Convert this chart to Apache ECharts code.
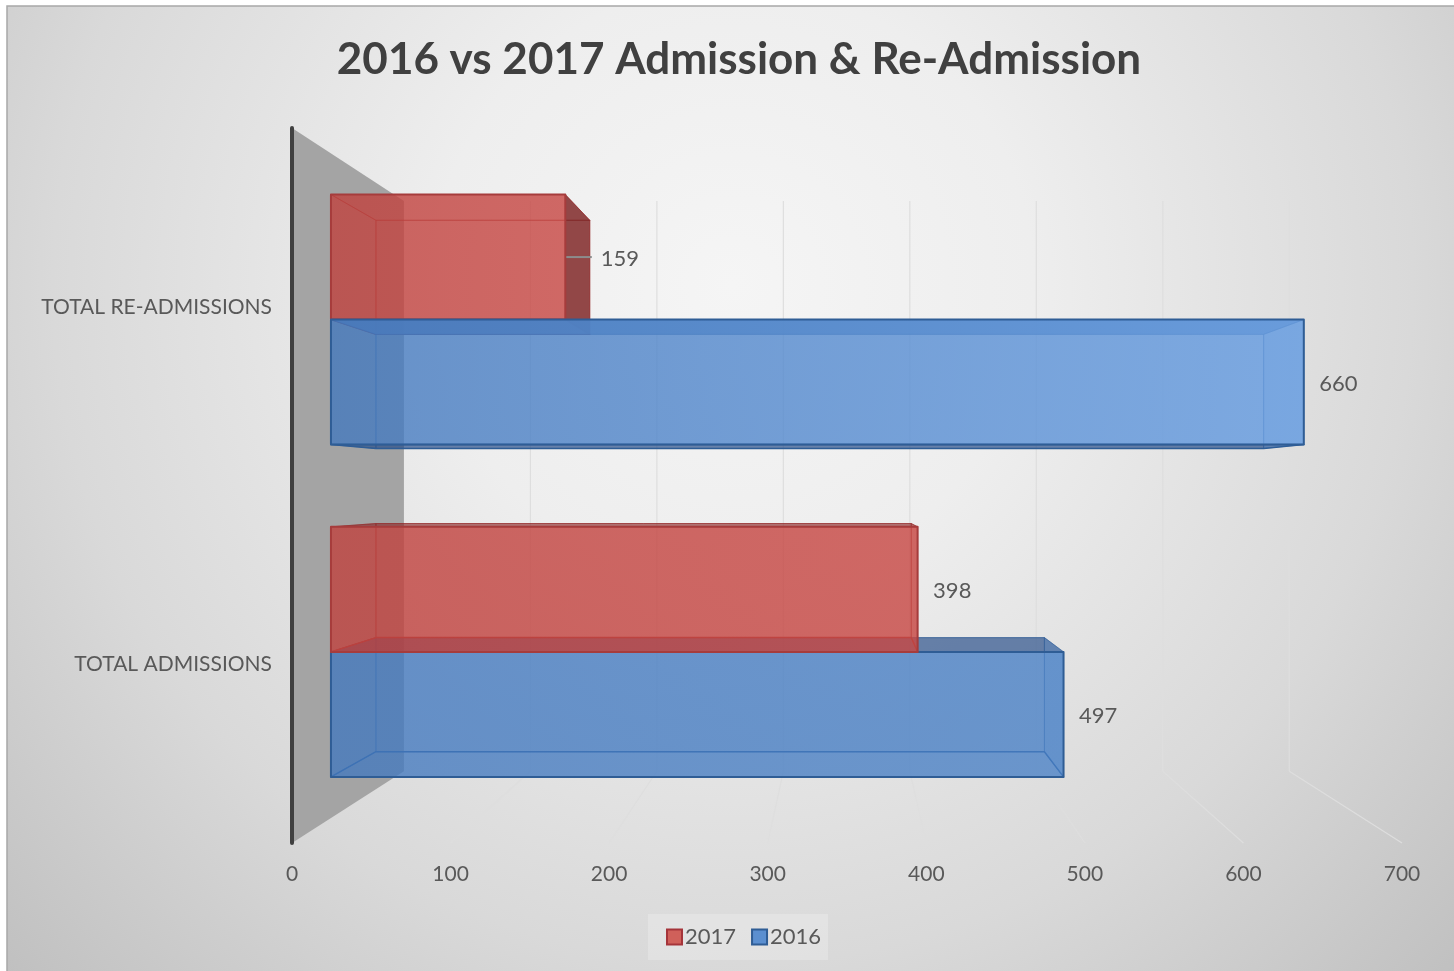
<!DOCTYPE html>
<html>
<head>
<meta charset="utf-8">
<title>2016 vs 2017 Admission & Re-Admission</title>
<style>html,body{margin:0;padding:0;background:#fff}#chart{width:1454px;height:971px}</style>
<script src="https://cdn.jsdelivr.net/npm/echarts@6/dist/echarts.min.js"></script>
</head>
<body>
<div id="chart"></div>
<script>
// Chart content
const chartTitle = '2016 vs 2017 Admission & Re-Admission';
const categories = ['TOTAL ADMISSIONS', 'TOTAL RE-ADMISSIONS'];
const values2017 = [398, 159];
const values2016 = [497, 660];
const axisTicks = [0, 100, 200, 300, 400, 500, 600, 700];

// Perspective view: everything recedes toward a vanishing point
const VIEW = { cx: 845, cy: 488.7, shrink: 0.2024, barFront: 0.348, barBack: 0.75 };
const BAR_SHARE = 0.3762; // bar thickness as a share of one category band

function project(p, depth) {
  const s = 1 - VIEW.shrink * depth;
  return [VIEW.cx + (p[0] - VIEW.cx) * s, VIEW.cy + (p[1] - VIEW.cy) * s];
}

const RED = {
  legend: '#d0605a', legendEdge: '#a5343a',
  front: ['rgba(192,66,62,0.78)', 'rgba(200,72,68,0.78)'], upperFront: null,
  inner: 'rgba(190,60,58,0.12)', left: 'rgba(180,55,55,0.08)', top: 'rgba(170,50,50,0.12)', floor: 'rgba(170,50,50,0.1)',
  under: 'rgba(130,30,30,0.55)', right: 'rgba(120,30,30,0.78)', rightSeen: 'rgba(190,60,58,0.18)',
  edge: '#a63c3c', softEdge: 'rgba(150,40,40,0.5)'
};
const BLUE = {
  legend: '#5b8fd0', legendEdge: '#2f5d95',
  front: ['rgba(66,120,190,0.76)', 'rgba(72,128,198,0.76)'], upperFront: ['rgba(66,120,190,0.76)', 'rgba(104,158,226,0.80)'],
  inner: 'rgba(66,120,190,0.1)', left: 'rgba(60,110,180,0.08)', top: 'rgba(88,132,188,0.84)', floor: 'rgba(66,120,190,0.06)',
  under: 'rgba(30,70,130,0.62)', right: 'rgba(60,115,190,0.2)', rightSeen: 'rgba(70,130,205,0.22)',
  edge: '#2f5d95', softEdge: 'rgba(45,90,150,0.45)'
};

function poly(points, fill, z2, stroke, lineWidth) {
  return {
    type: 'polygon', z2: z2, silent: true,
    shape: { points: points },
    style: { fill: fill, stroke: stroke || 'none', lineWidth: lineWidth || 0, lineJoin: 'round' }
  };
}

// Draws one translucent 3D box per data item; side -1 sits above the band centre, +1 below
function boxRenderer(palette, side) {
  return function (params, api) {
    const value = api.value(0);
    const cat = api.value(1);
    const start = api.coord([0, cat]);
    const end = api.coord([value, cat]);
    const band = api.size([0, 1])[1];
    const thick = band * BAR_SHARE;
    const mid = start[1] + side * thick / 2;
    const y0 = mid - thick / 2, y1 = mid + thick / 2;
    const corner = (x, y, d) => project([x, y], d);
    const F = VIEW.barFront, B = VIEW.barBack;
    const fTL = corner(start[0], y0, F), fTR = corner(end[0], y0, F);
    const fBL = corner(start[0], y1, F), fBR = corner(end[0], y1, F);
    const bTL = corner(start[0], y0, B), bTR = corner(end[0], y0, B);
    const bBL = corner(start[0], y1, B), bBR = corner(end[0], y1, B);

    // The box nearer the vanishing point's height is painted last
    const base = 1000 - Math.abs((fTL[1] + fBL[1]) / 2 - VIEW.cy);
    const sticksOut = bTR[0] > fTR[0];
    const frontColors = (palette.upperFront && fTL[1] < VIEW.cy) ? palette.upperFront : palette.front;
    const frontFill = new echarts.graphic.LinearGradient(fTL[0], 0, fTR[0], 0, [
      { offset: 0, color: frontColors[0] }, { offset: 1, color: frontColors[1] }
    ], true);

    const children = [
      poly([bTL, bTR, bBR, bBL], palette.inner, base + 0, palette.softEdge, 1),
      poly([fTL, bTL, bBL, fBL], palette.left, base + 1, palette.softEdge, 1),
      poly([fTL, fTR, bTR, bTL], fTL[1] < bTL[1] ? palette.top : palette.under, base + 2, palette.softEdge, 1),
      poly([fBL, fBR, bBR, bBL], fBL[1] > bBL[1] ? palette.floor : palette.under, base + 3, palette.edge, 1.5),
      poly([fTR, bTR, bBR, fBR], sticksOut ? palette.right : palette.rightSeen, base + 4, palette.softEdge, 1),
      poly([fTL, fTR, fBR, fBL], frontFill, base + 5, palette.edge, 2)
    ];

    const labelY = (fTL[1] + fBL[1]) / 2;
    const outer = Math.max(fTR[0], bTR[0]);
    if (sticksOut) {
      children.push({
        type: 'line', z2: base + 6, silent: true,
        shape: { x1: fTR[0] + 1, y1: labelY, x2: bTR[0] + 2, y2: labelY },
        style: { stroke: '#8c8c8c', lineWidth: 2 }
      });
    }
    children.push({
      type: 'text', z2: base + 7, silent: true,
      x: outer + (sticksOut ? 11 : 15.5), y: labelY + 1.5,
      style: {
        text: String(value), fill: '#595959',
        font: '22px Lato', verticalAlign: 'middle', align: 'left'
      }
    });
    return { type: 'group', children: children };
  };
}

// Side wall behind the bars, drawn from the extent of the category axis
function wallRenderer(params, api) {
  const band = api.size([0, 1])[1];
  const top = api.coord([0, categories.length - 1]);
  const bottom = api.coord([0, 0]);
  const a = [top[0], top[1] - band / 2];
  const b = [bottom[0], bottom[1] + band / 2];
  return poly([a, project(a, 1), project(b, 1), b], '#a4a4a4', 0);
}

// Grid lines on the back wall plus their continuation across the floor
function gridRenderer(params, api) {
  const band = api.size([0, 1])[1];
  const x = api.coord([api.value(0), 0])[0];
  const topY = api.coord([0, categories.length - 1])[1] - band / 2;
  const botY = api.coord([0, 0])[1] + band / 2;
  const backTop = project([x, topY], 1);
  const backBot = project([x, botY], 1);
  const style = { stroke: '#dedede', lineWidth: 1.2 };
  return {
    type: 'group',
    children: [
      { type: 'line', silent: true, z2: 1, shape: { x1: backTop[0], y1: backTop[1], x2: backBot[0], y2: backBot[1] }, style: style },
      { type: 'line', silent: true, z2: 1, shape: { x1: backBot[0], y1: backBot[1], x2: x, y2: botY }, style: style }
    ]
  };
}

const chart = echarts.init(document.getElementById('chart'), null, { renderer: 'canvas' });
chart.setOption({
  animation: false,
  textStyle: { fontFamily: 'Lato' },
  graphic: [{
    type: 'rect', silent: true, z: -10,
    shape: { x: 7, y: 6, width: 1460, height: 980 },
    style: {
      stroke: '#a8a8a8', lineWidth: 1.5,
      fill: new echarts.graphic.RadialGradient(733, 284, 1000, [
        { offset: 0, color: '#f5f5f5' },
        { offset: 0.3, color: '#eeeeee' },
        { offset: 0.68, color: '#d9d9d9' },
        { offset: 1, color: '#c0c0c0' }
      ], true)
    }
  }],
  title: {
    text: chartTitle, left: 734, top: 33, textAlign: 'center',
    textStyle: { fontFamily: 'Lato', fontWeight: 'bold', fontSize: 44, color: '#404040' }
  },
  legend: {
    left: 648, top: 914, orient: 'horizontal', padding: [12, 7, 12, 18],
    backgroundColor: 'rgba(255,255,255,0.22)', itemWidth: 15, itemHeight: 15, itemGap: 15,
    textStyle: { fontFamily: 'Lato', fontSize: 22, color: '#595959', padding: [4, 0, 0, -2] },
    data: [
      { name: '2017', icon: 'rect', itemStyle: { color: RED.legend, borderColor: RED.legendEdge, borderWidth: 2 } },
      { name: '2016', icon: 'rect', itemStyle: { color: BLUE.legend, borderColor: BLUE.legendEdge, borderWidth: 2 } }
    ]
  },
  grid: { left: 292, right: 52, top: 128, bottom: 128, containLabel: false },
  xAxis: {
    type: 'value', min: 0, max: 700, interval: 100,
    axisLine: { show: false }, axisTick: { show: false }, splitLine: { show: false },
    axisLabel: { fontFamily: 'Lato', fontSize: 21, color: '#595959', margin: 21 }
  },
  yAxis: {
    type: 'category', data: categories,
    axisLine: { show: true, lineStyle: { color: '#404040', width: 4 } },
    axisTick: { show: false }, splitLine: { show: false },
    axisLabel: { fontFamily: 'Lato', fontSize: 21, color: '#595959', margin: 20, padding: [5, 0, 0, 0] },
    z: 5
  },
  series: [
    { type: 'custom', name: 'wall', silent: true, z: 1, clip: false, renderItem: wallRenderer, data: [[0, 0]], encode: { x: 0, y: 1 } },
    { type: 'custom', name: 'grid', silent: true, z: 1, clip: false, renderItem: gridRenderer, data: axisTicks.slice(1).map(t => [t, 0]), encode: { x: 0, y: 1 } },
    { type: 'custom', name: '2017', silent: true, z: 2, clip: false, renderItem: boxRenderer(RED, -1), data: values2017.map((v, i) => [v, i]), encode: { x: 0, y: 1 } },
    { type: 'custom', name: '2016', silent: true, z: 2, clip: false, renderItem: boxRenderer(BLUE, 1), data: values2016.map((v, i) => [v, i]), encode: { x: 0, y: 1 } }
  ]
});
</script>
</body>
</html>
